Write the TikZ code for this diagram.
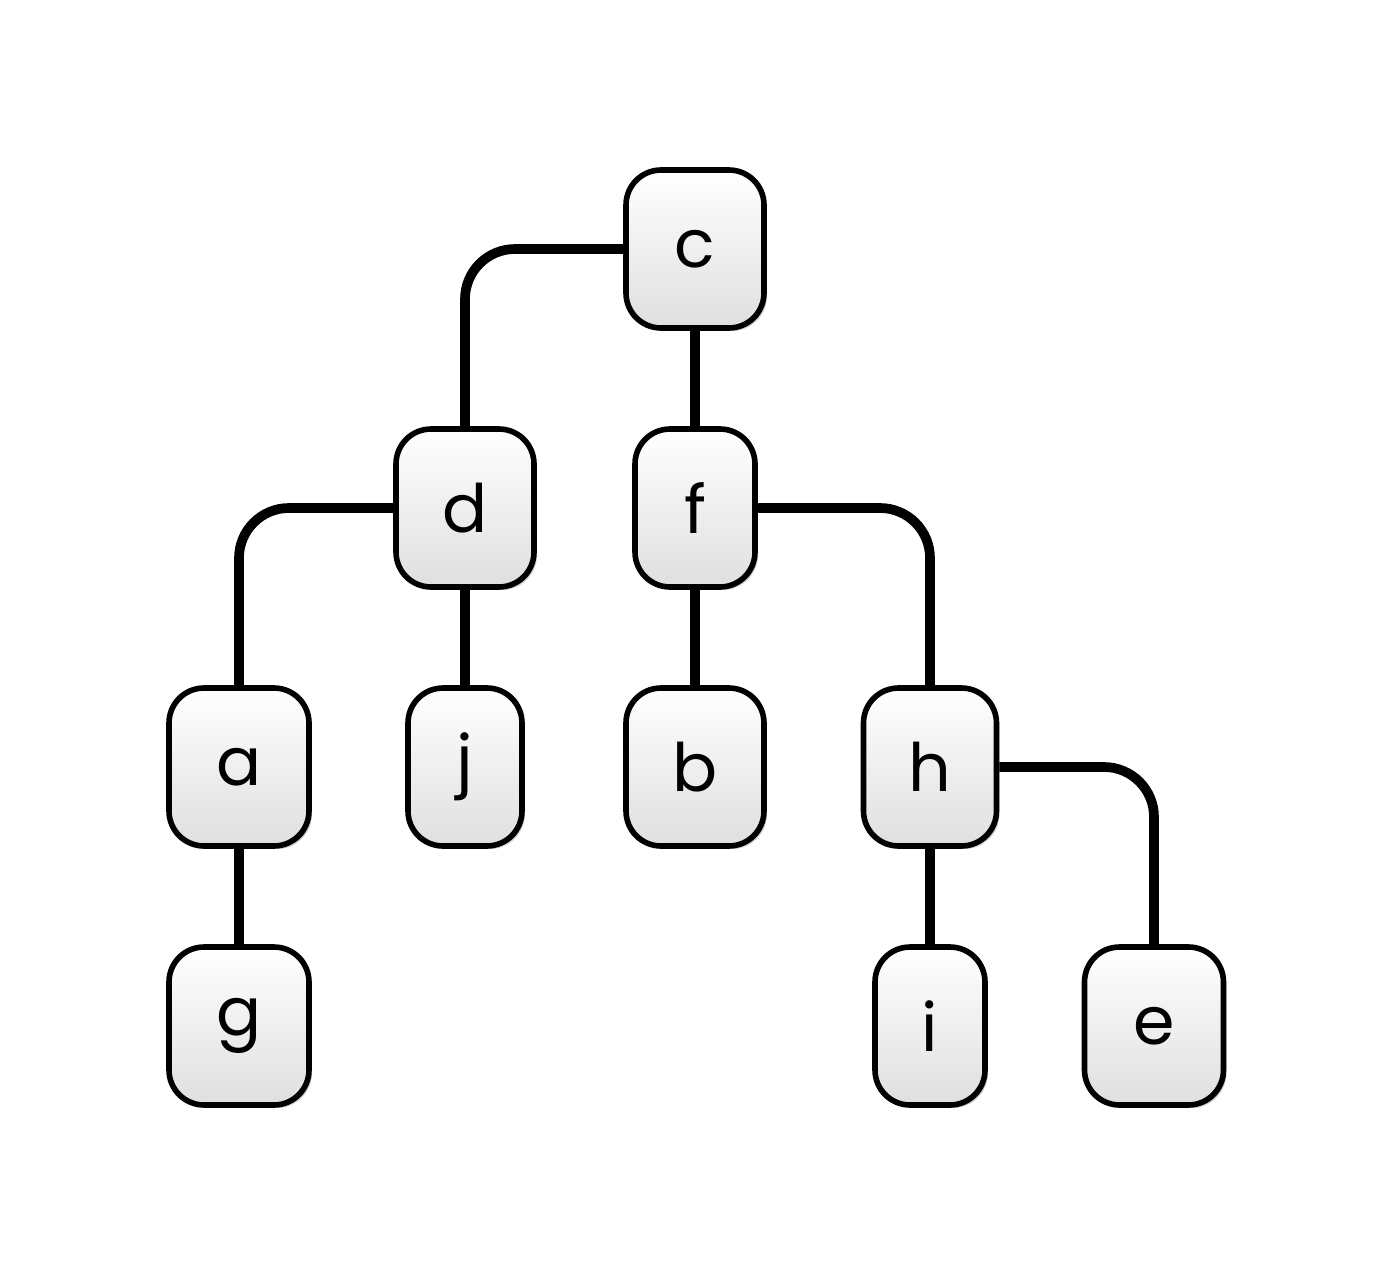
\documentclass[tikz,border=0pt]{standalone}
\usepackage{fontspec}
\setmainfont{Poppins}
\usetikzlibrary{shadows}
\begin{document}
\begin{tikzpicture}[
		x=0.02cm, y=-0.02cm,
		vertex/.style={draw, line width=3.2pt, rounded corners=0.7cm,
				minimum height=3.16cm, top color=white, bottom color=gray!25,
				drop shadow={shadow xshift=0.06cm, shadow yshift=-0.06cm, opacity=0.2, fill=black},
				font=\fontsize{38}{40}\selectfont},
		link/.style={line width=5.5pt, rounded corners=1cm}
	]
	\useasboundingbox (0,0) rectangle (1394,1275);
	\node[vertex, minimum width=2.76cm] (c) at (695,249) {c};
	\node[vertex, minimum width=2.76cm] (d) at (465,508) {d};
	\node[vertex, minimum width=2.4cm] (f) at (695,508) {f};
	\node[vertex, minimum width=2.8cm] (a) at (239,767) {a};
	\node[vertex, minimum width=2.28cm] (j) at (465,767) {j};
	\node[vertex, minimum width=2.76cm] (b) at (695,767) {b};
	\node[vertex, minimum width=2.66cm] (h) at (930,767) {h};
	\node[vertex, minimum width=2.8cm] (g) at (239,1026) {g};
	\node[vertex, minimum width=2.2cm] (i) at (930,1026) {i};
	\node[vertex, minimum width=2.78cm] (e) at (1154,1026) {e};

	\draw[link] (c.west) -| (d.north);
	\draw[link] (c.south) -- (f.north);
	\draw[link] (d.west) -| (a.north);
	\draw[link] (d.south) -- (j.north);
	\draw[link] (f.east) -| (h.north);
	\draw[link] (f.south) -- (b.north);
	\draw[link] (a.south) -- (g.north);
	\draw[link] (h.east) -| (e.north);
	\draw[link] (h.south) -- (i.north);
\end{tikzpicture}
\end{document}
